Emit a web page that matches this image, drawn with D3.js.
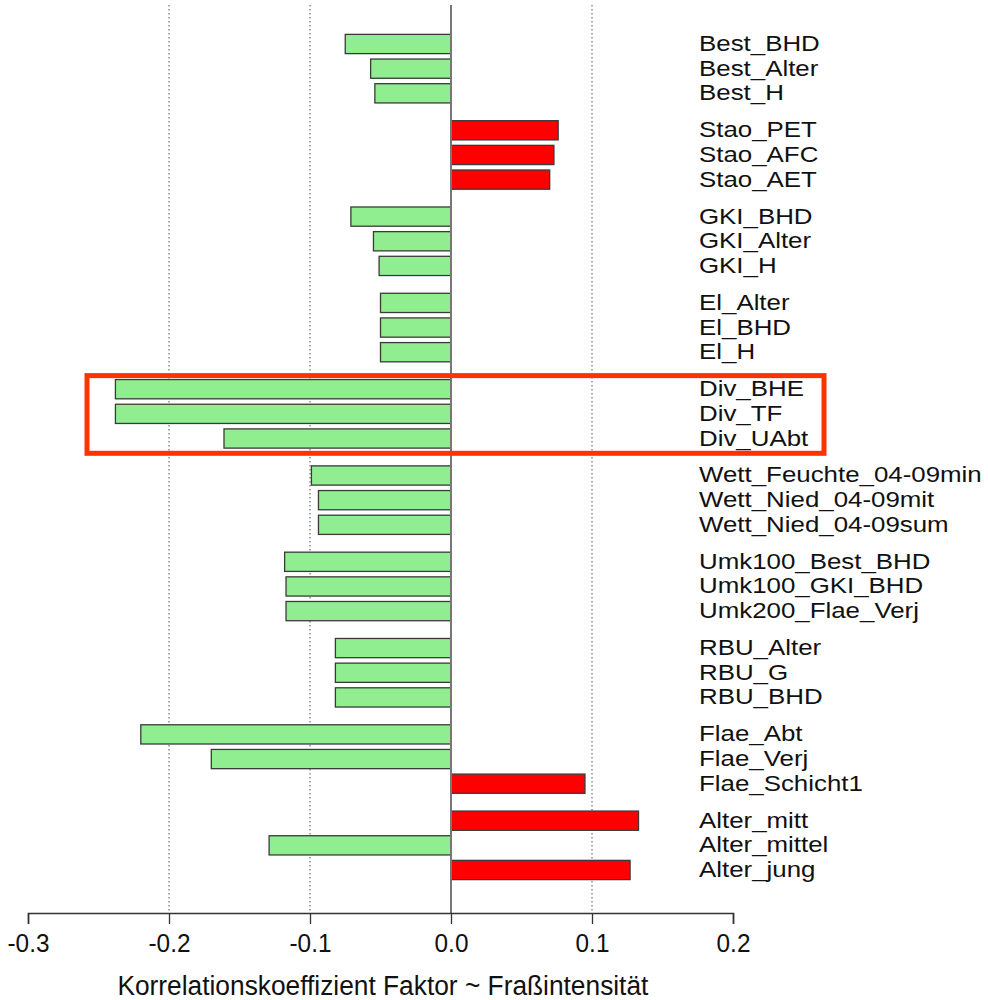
<!DOCTYPE html>
<html>
<head>
<meta charset="utf-8">
<script src="https://cdn.jsdelivr.net/npm/d3@7"></script>
<style>
  body { margin: 0; background: #fff; }
  text { font-family: "Liberation Sans", Arial, sans-serif; }
</style>
</head>
<body>
<div id="chart"></div>
<script>
// factor names, top to bottom, one array per group
const groups = [
  ["Best_BHD", "Best_Alter", "Best_H"],
  ["Stao_PET", "Stao_AFC", "Stao_AET"],
  ["GKI_BHD", "GKI_Alter", "GKI_H"],
  ["El_Alter", "El_BHD", "El_H"],
  ["Div_BHE", "Div_TF", "Div_UAbt"],
  ["Wett_Feuchte_04-09min", "Wett_Nied_04-09mit", "Wett_Nied_04-09sum"],
  ["Umk100_Best_BHD", "Umk100_GKI_BHD", "Umk200_Flae_Verj"],
  ["RBU_Alter", "RBU_G", "RBU_BHD"],
  ["Flae_Abt", "Flae_Verj", "Flae_Schicht1"],
  ["Alter_mitt", "Alter_mittel", "Alter_jung"]
];

// correlation coefficients, same order
const values = [
  [-0.075, -0.057, -0.054],
  [0.076, 0.073, 0.070],
  [-0.071, -0.055, -0.051],
  [-0.050, -0.050, -0.050],
  [-0.238, -0.238, -0.161],
  [-0.099, -0.094, -0.094],
  [-0.118, -0.117, -0.117],
  [-0.082, -0.082, -0.082],
  [-0.220, -0.170, 0.095],
  [0.133, -0.129, 0.127]
];

const xTicks = [-0.3, -0.2, -0.1, 0.0, 0.1, 0.2];
const gridTicks = [-0.2, -0.1, 0.1];
const xTitle = "Korrelationskoeffizient Faktor ~ Fraßintensität";
const highlightGroup = 4;

const width = 988, height = 1000;
const groupGap = 0.5;

// flatten into rows with a vertical position in "row units"
const rows = [];
groups.forEach((g, gi) => {
  g.forEach((name, i) => {
    rows.push({name: name, value: values[gi][i], group: gi,
      pos: rows.length + gi * groupGap});
  });
});

const svg = d3.select("#chart").append("svg")
  .attr("width", width)
  .attr("height", height);

const x = d3.scaleLinear()
  .domain([-0.3, 0.2])
  .range([28, 733]);

const lastPos = d3.max(rows, d => d.pos);
const y = d3.scaleLinear()
  .domain([0, lastPos])
  .range([44, 870]);

const unit = y(1) - y(0);
const barH = unit * 0.78;

// dotted grid lines
svg.selectAll("line.grid")
  .data(gridTicks)
  .enter()
  .append("line")
  .attr("class", "grid")
  .attr("x1", d => x(d)).attr("x2", d => x(d))
  .attr("y1", 5).attr("y2", 913)
  .attr("stroke", "#555")
  .attr("stroke-width", 1)
  .attr("stroke-dasharray", "1.5,2.5");

// bars
svg.selectAll("rect.bar")
  .data(rows)
  .enter()
  .append("rect")
  .attr("class", "bar")
  .attr("x", d => x(Math.min(0, d.value)))
  .attr("width", d => Math.abs(x(d.value) - x(0)))
  .attr("y", d => y(d.pos) - barH / 2)
  .attr("height", barH)
  .attr("fill", d => d.value < 0 ? "#90EE90" : "#FF0000")
  .attr("stroke", "#3a3a3a")
  .attr("stroke-width", 1.3);

// zero line
svg.append("line")
  .attr("x1", x(0)).attr("x2", x(0))
  .attr("y1", 5).attr("y2", 913)
  .attr("stroke", "#777")
  .attr("stroke-width", 2);

// factor labels (the source font renders a bit wider than Liberation Sans)
svg.selectAll("text.lab")
  .data(rows)
  .enter()
  .append("text")
  .attr("class", "lab")
  .attr("transform", d => "translate(699," + (y(d.pos) + 7) + ") scale(1.15,1)")
  .attr("font-size", 22.5)
  .attr("fill", "#111")
  .text(d => d.name);

// x axis
const axis = svg.append("g")
  .attr("transform", "translate(0,913)")
  .call(d3.axisBottom(x).tickValues(xTicks).tickFormat(d => d.toFixed(1)).tickSize(11).tickPadding(6));
axis.select(".domain").attr("stroke", "#333").attr("stroke-width", 1.6);
axis.selectAll(".tick line").attr("stroke", "#333").attr("stroke-width", 1.3);
axis.selectAll(".tick text")
  .attr("y", 0)
  .attr("dy", 0)
  .attr("transform", "translate(0,39) scale(0.92,1)")
  .attr("font-size", 26.5)
  .attr("fill", "#111");

svg.append("text")
  .attr("transform", "translate(" + x(-0.0483) + ",995) scale(0.94,1)")
  .attr("text-anchor", "middle")
  .attr("font-size", 28)
  .attr("fill", "#111")
  .text(xTitle);

// highlight box around one group
const hRows = rows.filter(d => d.group === highlightGroup);
const boxTop = y(d3.min(hRows, d => d.pos)) - unit * 0.55;
const boxBot = y(d3.max(hRows, d => d.pos)) + unit * 0.6;
svg.append("rect")
  .attr("x", 87)
  .attr("y", boxTop)
  .attr("width", 737)
  .attr("height", boxBot - boxTop)
  .attr("fill", "none")
  .attr("stroke", "#FF3300")
  .attr("stroke-width", 5);
</script>
</body>
</html>
